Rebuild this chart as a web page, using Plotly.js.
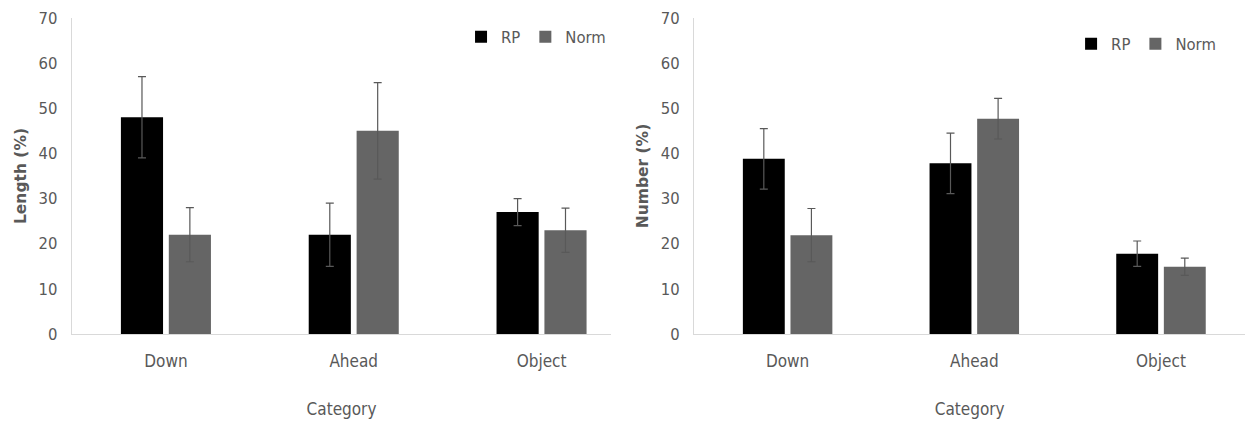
<!DOCTYPE html>
<html>
<head>
<meta charset="utf-8">
<script src="https://cdn.plot.ly/plotly-3.0.1.min.js"></script>
<style>
  html, body { margin: 0; padding: 0; background: #ffffff; }
  #chart { width: 1246px; height: 422px; }
</style>
</head>
<body>
<div id="chart"></div>
<script>
// ---- data ----
const categories = ["Down", "Ahead", "Object"];
const seriesNames = ["RP", "Norm"];

// Left panel: Length (%)
const lengthRP = [48, 22, 27];
const lengthRPErr = [9, 7, 3];
const lengthNorm = [22, 45, 23];
const lengthNormErr = [6, 10.7, 4.9];

// Right panel: Number (%)
const numberRP = [38.8, 37.8, 17.8];
const numberRPErr = [6.7, 6.7, 2.8];
const numberNorm = [21.9, 47.7, 14.9];
const numberNormErr = [5.9, 4.5, 1.9];

const yTickVals = [0, 10, 20, 30, 40, 50, 60, 70];

// ---- styles ----
const FONT = "DejaVu Sans Condensed, Liberation Sans Narrow, sans-serif";
const TXT = "#595959";
const AX = "#d9d9d9";
const colRP = "#000000";
const colNorm = "#656565";
const errStyle = { type: "data", visible: true, color: "#595959", thickness: 1.2, width: 4 };

function bar(name, x, y, err, color, xa, ya, legend, show) {
  return {
    type: "bar", name: name, x: x, y: y,
    xaxis: xa, yaxis: ya, legend: legend, showlegend: show,
    marker: { color: color, line: { width: 0 } },
    error_y: Object.assign({ array: err }, errStyle),
    hoverinfo: "skip"
  };
}

const data = [
  bar(seriesNames[0], categories, lengthRP, lengthRPErr, colRP, "x", "y", "legend", true),
  bar(seriesNames[1], categories, lengthNorm, lengthNormErr, colNorm, "x", "y", "legend", true),
  bar(seriesNames[0], categories, numberRP, numberRPErr, colRP, "x2", "y2", "legend2", true),
  bar(seriesNames[1], categories, numberNorm, numberNormErr, colNorm, "x2", "y2", "legend2", true)
];

function xAxis(domain, range, anchor) {
  return {
    domain: domain, anchor: anchor, range: range, type: "category",
    showline: true, linecolor: AX, linewidth: 1.3,
    showgrid: false, zeroline: false, ticks: "",
    tickfont: { family: FONT, size: 17, color: TXT },
    ticklabelstandoff: 11,
    title: { text: "Category", font: { family: FONT, size: 17, color: TXT }, standoff: 33 },
    fixedrange: true
  };
}
function yAxis(domainAnchor, title) {
  return {
    anchor: domainAnchor, range: [0, 70], tickvals: yTickVals,
    showline: true, linecolor: AX, linewidth: 1.3,
    showgrid: false, zeroline: false, ticks: "",
    tickfont: { family: FONT, size: 16.5, color: TXT },
    ticklabelstandoff: 10,
    title: { text: title, font: { family: "DejaVu Sans, sans-serif", size: 15.5, color: TXT, weight: "bold" }, standoff: 8 },
    fixedrange: true
  };
}

function legendCfg(x, y) {
  return {
    orientation: "h", x: x, y: y, xanchor: "right", yanchor: "middle",
    xref: "paper", yref: "paper",
    font: { family: FONT, size: 16.5, color: TXT },
    itemwidth: 30, bgcolor: "rgba(0,0,0,0)", traceorder: "normal"
  };
}

const layout = {
  width: 1246, height: 422,
  margin: { l: 0, r: 0, t: 18, b: 88 },
  paper_bgcolor: "#ffffff", plot_bgcolor: "#ffffff",
  barmode: "group", bargap: 0.49, bargroupgap: 0.12,
  xaxis: xAxis([0.0578, 0.4904], [-0.5, 2.37], "y"),
  yaxis: yAxis("x", "Length (%)"),
  xaxis2: xAxis([0.5572, 0.9992], [-0.5, 2.45], "y2"),
  yaxis2: yAxis("x2", "Number (%)"),
  legend: legendCfg(0.4904, 0.94),
  legend2: legendCfg(0.980, 0.918),
  showlegend: true
};

Plotly.newPlot("chart", data, layout, { displayModeBar: false, staticPlot: true });
</script>
</body>
</html>
